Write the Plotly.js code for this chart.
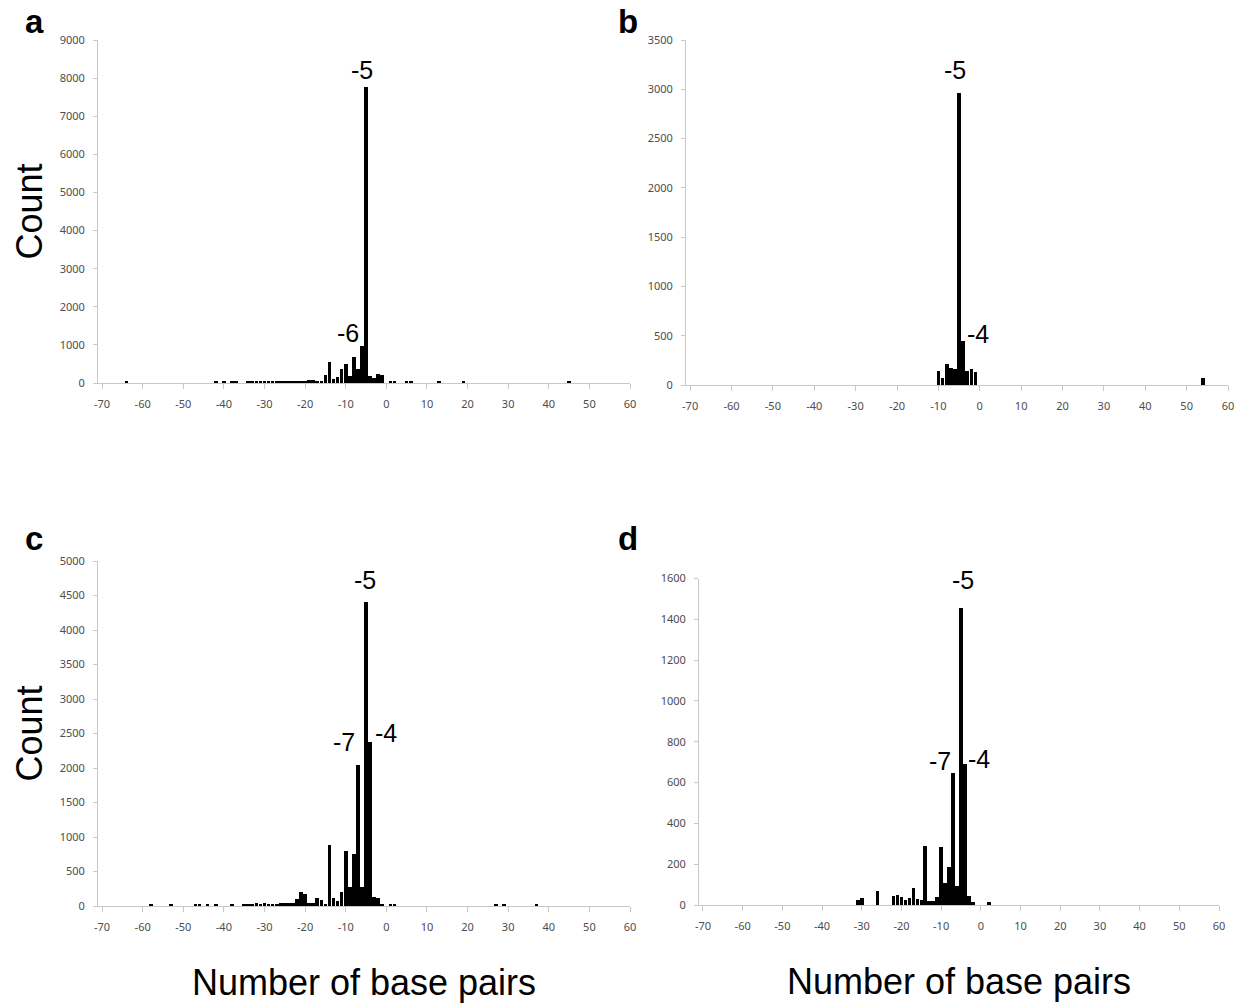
<!DOCTYPE html>
<html>
<head>
<meta charset="utf-8">
<script src="https://cdn.plot.ly/plotly-3.0.1.min.js"></script>
<style>html,body{margin:0;padding:0;background:#fff;}#chart{width:1244px;height:1005px;}</style>
</head>
<body>
<div id="chart"></div>
<script>
// Panel a
const aBp = [-64,-42,-40,-38,-37,-34,-33,-32,-31,-30,-29,-28,-27,-26,-25,-24,-23,-22,-21,-20,-19,-18,-17,-16,-15,-14,-13,-12,-11,-10,-9,-8,-7,-6,-5,-4,-3,-2,-1,1,2,5,6,13,19,45];
const aCount = [40,40,40,40,40,40,40,40,40,40,40,40,40,40,40,40,40,40,40,50,70,70,50,40,200,560,110,150,380,510,190,680,380,960,7770,180,120,240,210,40,40,40,40,40,40,40];
// Panel b
const bBp = [-10,-9,-8,-7,-6,-5,-4,-3,-2,-1,54];
const bCount = [145,70,210,170,160,2960,450,140,165,130,70];
// Panel c
const cBp = [-58,-53,-47,-46,-44,-42,-38,-35,-34,-33,-32,-31,-30,-29,-28,-27,-26,-25,-24,-23,-22,-21,-20,-19,-18,-17,-16,-15,-14,-13,-12,-11,-10,-9,-8,-7,-6,-5,-4,-3,-2,-1,1,2,27,29,37];
const cCount = [25,25,25,25,25,25,25,25,25,30,40,30,40,30,25,25,40,40,50,50,100,200,170,40,40,110,80,30,880,110,70,210,800,270,760,2040,270,4410,2370,130,110,30,25,25,25,25,25];
// Panel d
const dBp = [-31,-30,-26,-22,-21,-20,-19,-18,-17,-16,-15,-14,-13,-12,-11,-10,-9,-8,-7,-6,-5,-4,-3,-2,2];
const dCount = [25,35,70,45,50,40,25,35,85,30,25,290,20,20,40,285,110,185,645,95,1455,690,45,15,15];

const xTickVals = [-70,-60,-50,-40,-30,-20,-10,0,10,20,30,40,50,60];
const xTickText = ["-70","-60","-50","-40","-30","-20","-10","0","10","20","30","40","50","60"];
const panelLetters = ["a","b","c","d"];
const yTitle = "Count";
const xTitle = "Number of base pairs";

const W = 1244, H = 1005;
const px = (a,b) => [a/W, b/W];
const py = (top,bot) => [1-bot/H, 1-top/H];

const tickFont = {family: "Noto Sans, DejaVu Sans, sans-serif", size: 11, color: "#4d4d4d"};
const axisColor = "#c8c8c8";
const titleFont = {family: "Liberation Sans, Arial, sans-serif", size: 36, color: "#000"};

function xAxis(domain, anchor, left, title) {
  const ax = {
    domain: domain, anchor: anchor, range: [left, 60], tickmode: "array",
    tickvals: xTickVals, ticktext: xTickText, showgrid: false, zeroline: false,
    showline: true, linecolor: axisColor, linewidth: 1, ticks: "outside",
    ticklen: 5, tickcolor: axisColor, tickfont: tickFont, ticklabelstandoff: 6, fixedrange: true
  };
  if (title) ax.title = {text: title, font: titleFont, standoff: 36};
  return ax;
}
function yAxis(domain, anchor, max, dtick, title) {
  const ax = {
    domain: domain, anchor: anchor, range: [0, max], dtick: dtick, tick0: 0,
    showgrid: false, zeroline: false, showline: true, linecolor: axisColor, linewidth: 1,
    ticks: "outside", ticklen: 4, tickcolor: axisColor, tickfont: tickFont,
    ticklabelstandoff: 6, fixedrange: true
  };
  if (title) ax.title = {text: title, font: titleFont, standoff: 6};
  return ax;
}

const barStyle = {color: "#000", line: {width: 0}};
const data = [
  {type: "bar", x: aBp, y: aCount, xaxis: "x", yaxis: "y", width: 0.9, marker: barStyle, hoverinfo: "x+y"},
  {type: "bar", x: bBp, y: bCount, xaxis: "x2", yaxis: "y2", width: 0.9, marker: barStyle, hoverinfo: "x+y"},
  {type: "bar", x: cBp, y: cCount, xaxis: "x3", yaxis: "y3", width: 0.9, marker: barStyle, hoverinfo: "x+y"},
  {type: "bar", x: dBp, y: dCount, xaxis: "x4", yaxis: "y4", width: 0.9, marker: barStyle, hoverinfo: "x+y"}
];

const peakFont = {family: "Liberation Sans, Arial, sans-serif", size: 25, color: "#000"};
const letterFont = {family: "Liberation Sans, Arial, sans-serif", size: 33, color: "#000", weight: "bold"};
function peak(xr, yr, x, y, text) {
  return {xref: xr, yref: yr, x: x, y: y, text: text, showarrow: false, font: peakFont, xanchor: "center", yanchor: "middle"};
}
function letter(x, y, text) {
  return {xref: "paper", yref: "paper", x: x/W, y: 1-y/H, text: "<b>"+text+"</b>", showarrow: false, font: letterFont, xanchor: "center", yanchor: "middle"};
}

const layout = {
  width: W, height: H, margin: {l: 0, r: 0, t: 0, b: 0},
  paper_bgcolor: "#fff", plot_bgcolor: "#fff", showlegend: false, bargap: 0,
  xaxis: xAxis(px(98, 630), "y", -71),
  yaxis: yAxis(py(40, 383), "x", 9000, 1000, yTitle),
  xaxis2: xAxis(px(686, 1228), "y2", -71),
  yaxis2: yAxis(py(40, 385), "x2", 3500, 500),
  xaxis3: xAxis(px(98, 630), "y3", -71, xTitle),
  yaxis3: yAxis(py(561, 906), "x3", 5000, 500, yTitle),
  xaxis4: xAxis(px(699, 1219), "y4", -71, xTitle),
  yaxis4: yAxis(py(578.5, 905), "x4", 1600, 200),
  annotations: [
    peak("x", "y", -6, 8215, "-5"),
    peak("x", "y", -9.5, 1320, "-6"),
    peak("x2", "y2", -6.1, 3200, "-5"),
    peak("x2", "y2", -0.5, 515, "-4"),
    peak("x3", "y3", -5.35, 4720, "-5"),
    peak("x3", "y3", -10.5, 2379, "-7"),
    peak("x3", "y3", -0.2, 2510, "-4"),
    peak("x4", "y4", -4.6, 1595, "-5"),
    peak("x4", "y4", -10.4, 707, "-7"),
    peak("x4", "y4", -0.5, 714, "-4"),
    letter(34, 22, panelLetters[0]),
    letter(628, 22, panelLetters[1]),
    letter(34, 538, panelLetters[2]),
    letter(628, 538, panelLetters[3])
  ]
};

Plotly.newPlot("chart", data, layout, {displayModeBar: false, staticPlot: true});
</script>
</body>
</html>
